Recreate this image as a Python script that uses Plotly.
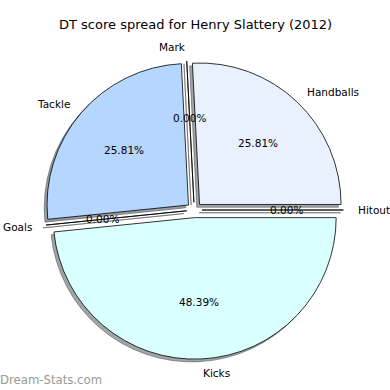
import math
import plotly.graph_objects as go

# ---- data ----
title_text = "DT score spread for Henry Slattery (2012)"
labels = ["Hitout", "Handballs", "Mark", "Tackle", "Goals", "Kicks"]
values = [0, 8, 0, 8, 0, 15]
colors = ["#ffe4e1", "#e9f1ff", "#fff0d0", "#b4d6ff", "#e0ffe0", "#d9ffff"]
watermark = "Dream-Stats.com"

# ---- layout geometry (pixels) ----
W = H = 390
CX, CY = 194.3, 210.0      # pie centre (screen px)
R = 141.5                  # radius px
PULL = 0.054               # explode, fraction of radius
SH = 2.8                   # shadow offset px (left / down)
FONT = "DejaVu Sans"

half = R * (1 + PULL)


def dom(cx, cy):
    return dict(x=[(cx - half) / W, (cx + half) / W],
                y=[(H - cy - half) / H, (H - cy + half) / H])


def shade(hexc):
    h = hexc.lstrip("#")
    r, g, b = (int(h[i:i + 2], 16) for i in (0, 2, 4))
    return "rgba(%d,%d,%d,0.5)" % (round(0.3 * r), round(0.3 * g), round(0.3 * b))


shadow_cols = [shade(c) for c in colors]

fig = go.Figure()
common = dict(labels=labels, values=values, sort=False, direction="counterclockwise",
              rotation=90, pull=[PULL] * len(values), textinfo="none",
              hoverinfo="label+percent", showlegend=False)
fig.add_trace(go.Pie(**common, domain=dom(CX - SH, CY + SH),
                     marker=dict(colors=shadow_cols, line=dict(color=shadow_cols, width=1))))
fig.add_trace(go.Pie(**common, domain=dom(CX, CY),
                     marker=dict(colors=colors, line=dict(color="black", width=0.8))))

# ---- labels & percentages (matplotlib-style placement) ----
total = sum(values)
ann = []
start = 0.0
txt = dict(showarrow=False, borderpad=0, borderwidth=0, xref="paper", yref="paper")
for lab, v in zip(labels, values):
    span = 360.0 * v / total
    mid = math.radians(start + span / 2)
    start += span
    ox = CX + PULL * R * math.cos(mid)
    oy = CY - PULL * R * math.sin(mid)
    lx = ox + 1.1 * R * math.cos(mid)
    ly = oy - 1.1 * R * math.sin(mid)
    px = ox + 0.6 * R * math.cos(mid)
    py = oy - 0.6 * R * math.sin(mid)
    ann.append(dict(x=lx / W, y=1 - ly / H, text=lab,
                    xanchor="left" if math.cos(mid) > 0 else "right",
                    yanchor="middle", font=dict(family=FONT, size=10.5, color="black"), **txt))
    ann.append(dict(x=px / W, y=1 - py / H,
                    text="%.2f%%" % (100.0 * v / total),
                    xanchor="center", yanchor="middle",
                    font=dict(family=FONT, size=10.5, color="black"), **txt))

ann.append(dict(x=195 / W, y=1 - 25 / H, text=title_text,
                xanchor="center", yanchor="middle",
                font=dict(family=FONT, size=13, color="black"), **txt))
ann.append(dict(x=0, y=1 - 380 / H, text=watermark,
                xanchor="left", yanchor="middle",
                font=dict(family=FONT, size=11.7, color="#999999"), **txt))

fig.update_layout(width=W, height=H, margin=dict(l=0, r=0, t=0, b=0),
                  paper_bgcolor="white", plot_bgcolor="white", annotations=ann)

fig.write_html("out.html")
